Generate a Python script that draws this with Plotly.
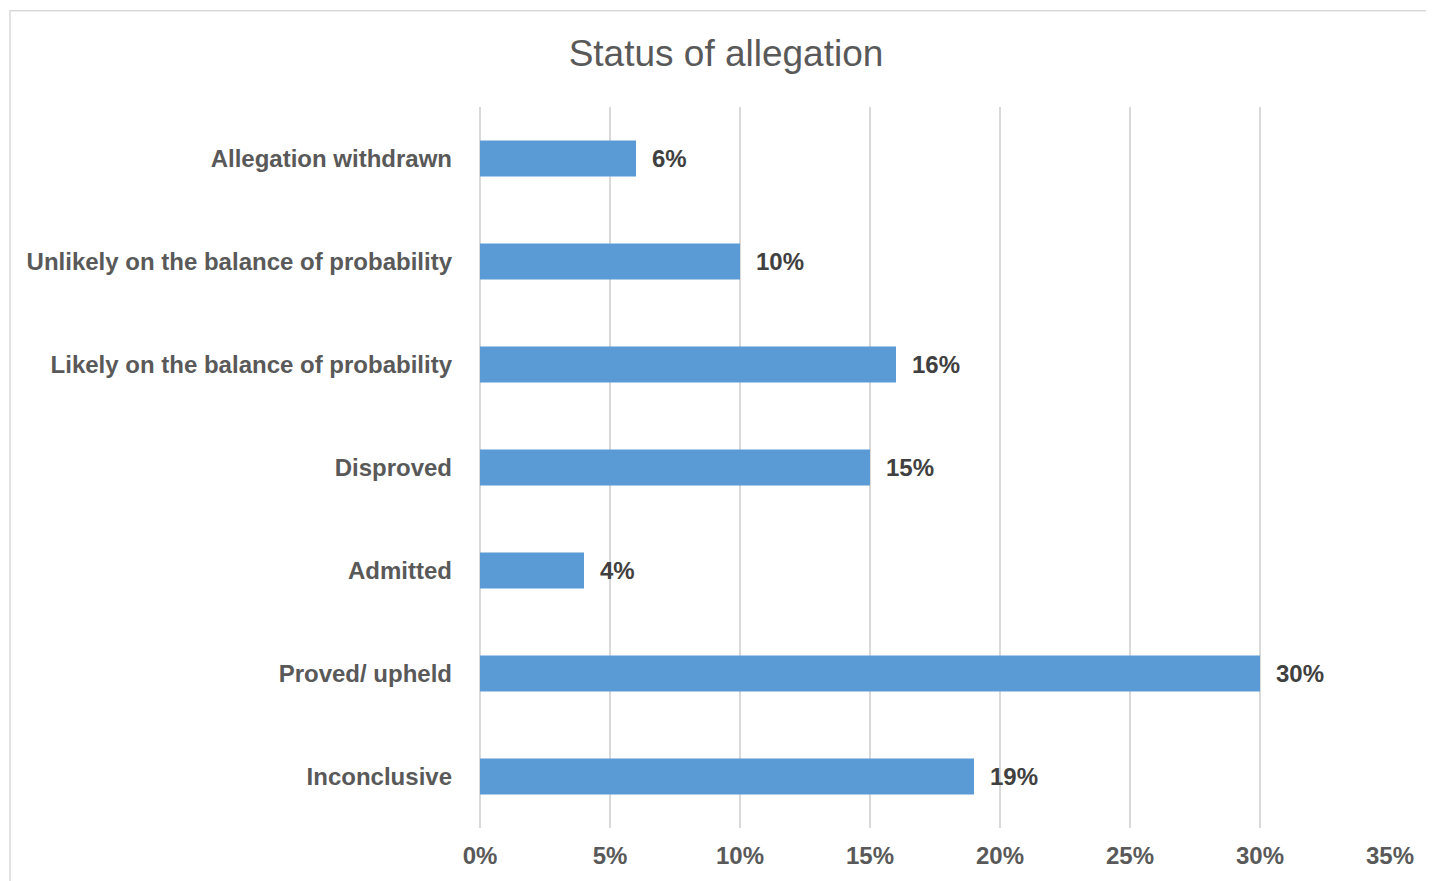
# Horizontal bar chart: status of allegation (share of cases).
import plotly.graph_objects as go

categories = [
    "Allegation withdrawn",
    "Unlikely on the balance of probability",
    "Likely on the balance of probability",
    "Disproved",
    "Admitted",
    "Proved/ upheld",
    "Inconclusive",
]
values = [6, 10, 16, 15, 4, 30, 19]
tick_vals = [0, 5, 10, 15, 20, 25, 30, 35]
tick_text = [f"{v}%" for v in tick_vals]

FONT = "Liberation Sans, Arial, Helvetica, sans-serif"
GRID = "#d9d9d9"

fig = go.Figure()
fig.add_trace(go.Bar(
    y=categories, x=values, orientation="h",
    marker=dict(color="#5b9bd5", line=dict(width=0)),
    width=0.35, hoverinfo="x+y",
))

# data labels, placed just right of each bar end
for cat, v in zip(categories, values):
    fig.add_annotation(
        x=v, y=cat, text=f"<b>{v}%</b>", showarrow=False,
        xanchor="left", yanchor="middle", xshift=14,
        font=dict(family=FONT, size=24, color="#404040"),
    )

# light outer chart border (extends past the right/bottom edges)
fig.add_shape(
    type="rect", xref="paper", yref="paper",
    x0=-0.5165, x1=1.2, y0=-0.2, y1=1.1335,
    line=dict(color=GRID, width=1.5), fillcolor="rgba(0,0,0,0)", layer="below",
)

# the page body adds an 8px margin, so the figure is 8px smaller each way
fig.update_layout(
    width=1426, height=873,
    margin=dict(l=472, r=44, t=99, b=51),
    paper_bgcolor="white", plot_bgcolor="white",
    showlegend=False,
    title=dict(
        text="Status of allegation", xref="container", yref="container",
        x=0.5035, y=0.9485, xanchor="center", yanchor="middle",
        font=dict(family=FONT, size=37, color="#595959"),
    ),
    font=dict(family=FONT, color="#595959"),
)
fig.update_xaxes(
    range=[0, 35], tickvals=tick_vals, ticktext=[f"<b>{t}</b>" for t in tick_text],
    showgrid=True, gridcolor=GRID, gridwidth=1.5,
    zeroline=True, zerolinecolor=GRID, zerolinewidth=1.5,
    showline=False, ticks="", fixedrange=True,
    ticklabelstandoff=11,
    tickfont=dict(family=FONT, size=24, color="#595959"),
)
fig.update_yaxes(
    categoryorder="array", categoryarray=categories[::-1],
    ticktext=[f"<b>{c}</b>" for c in categories], tickvals=categories,
    showgrid=False, zeroline=False, showline=False, ticks="",
    ticklabelstandoff=27,
    tickfont=dict(family=FONT, size=24, color="#595959"),
)

fig.write_html("out.html")
